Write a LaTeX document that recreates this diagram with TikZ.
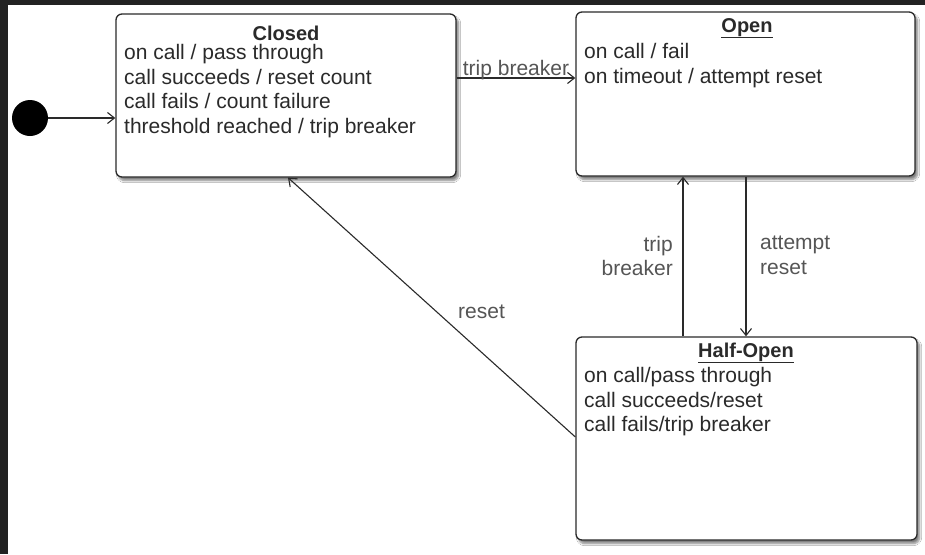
\documentclass[tikz,border=0pt]{standalone}
\usepackage{fontspec}
\setmainfont{Liberation Sans}
\usetikzlibrary{arrows.meta,shadows.blur}
\definecolor{frame}{HTML}{222222}
\definecolor{ink}{HTML}{2A2A2A}
\definecolor{lbl}{HTML}{555555}
\tikzset{
  statebox/.style={draw=ink, line width=1.3pt, rounded corners=6pt, fill=white,
    blur shadow={shadow xshift=2.5pt, shadow yshift=-3.5pt, shadow blur steps=6, shadow opacity=50},
    inner sep=0pt},
  titletext/.style={font=\fontsize{20}{24}\selectfont\bfseries, text=ink, inner sep=0pt, anchor=base},
  bodytext/.style={font=\fontsize{21}{24.5}\selectfont, text=ink, inner sep=0pt, anchor=north west, align=left},
  lbltext/.style={font=\fontsize{21}{24.5}\selectfont, text=lbl, inner sep=0pt},
  conn/.style={draw=ink, line width=1.1pt, -{Straight Barb[length=7pt,width=11pt,line width=1.1pt]}}
}
\begin{document}
\begin{tikzpicture}[x=1pt,y=-1pt]
\useasboundingbox (0,0) rectangle (925,554);
\fill[white] (0,0) rectangle (925,554);
\fill[frame] (0,0) rectangle (925,5);
\fill[frame] (0,0) rectangle (8,554);

% states
\node[statebox, minimum width=340pt, minimum height=163pt] (closed) at (286,95.5) {};
\node[statebox, minimum width=339pt, minimum height=164pt] (open) at (745.5,94) {};
\node[statebox, minimum width=341pt, minimum height=203pt] (half) at (746.5,438.5) {};

% initial state
\node[circle, fill=black, minimum size=36pt, inner sep=0pt] (init) at (30,118) {};

% texts
\node[titletext] (closedT) at (286,40.5) {Closed};
\node[bodytext] (closedB) at (124,44.5) {on call / pass through\\call succeeds / reset count\\call fails / count failure\\threshold reached / trip breaker};

\node[titletext] (openT) at (747,32) {\underline{Open}};
\node[bodytext] (openB) at (584,43.5) {on call / fail\\on timeout / attempt reset};

\node[titletext] (halfT) at (746,357) {\underline{Half-Open}};
\node[bodytext] (halfB) at (584,367.5) {on call/pass through\\call succeeds/reset\\call fails/trip breaker};

% helper coordinates
\coordinate (tbY) at (0,78);
\coordinate (upX) at (683,0);
\coordinate (dnX) at (746,0);
\coordinate (rsY) at (0,437);
\coordinate (rsX) at (288,0);

% connectors
\draw[conn] (init) -- (init -| closed.west);
\draw[conn] (closed.east |- tbY) -- (open.west |- tbY);
\draw[conn] (half.north -| upX) -- (open.south -| upX);
\draw[conn] (open.south -| dnX) -- (half.north -| dnX);
\draw[conn] (half.west |- rsY) -- (closed.south -| rsX);

% labels
\node[lbltext, anchor=base] (tbL) at (516,75) {trip breaker};
\node[lbltext, anchor=north east, align=right] (tb2L) at (673,236) {trip\\breaker};
\node[lbltext, anchor=north west, align=left] (arL) at (760,236) {attempt\\reset};
\node[lbltext] (rsL) at (481.5,311.5) {reset};
\end{tikzpicture}
\end{document}
